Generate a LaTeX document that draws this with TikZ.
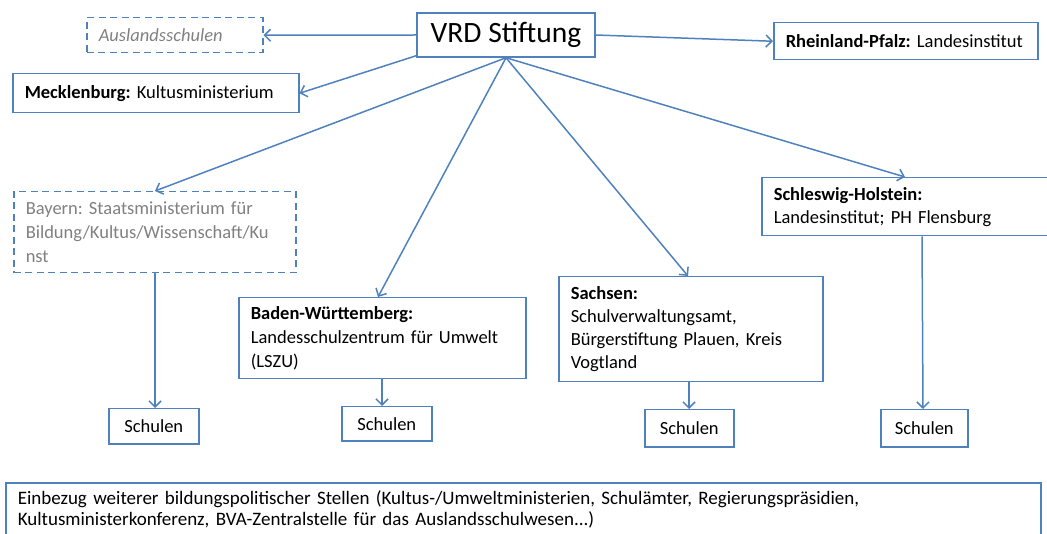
\documentclass[tikz,border=0pt]{standalone}
\usepackage{fontspec}
\setmainfont{Carlito}
\usetikzlibrary{arrows.meta}
\definecolor{ofblue}{HTML}{4F81BD}
\definecolor{txtgray}{HTML}{808080}
\frenchspacing

\begin{document}
\begin{tikzpicture}
  [x=1pt,y=-1pt,
   box/.style={draw=ofblue,line width=1.5pt,rectangle,anchor=north west,
     align=left,inner xsep=12pt,inner ysep=6pt,font=\fontsize{18.5}{24}\selectfont},
   dbox/.style={box,dash pattern=on 7pt off 4.5pt},
   school/.style={box,align=center,inner xsep=4pt,minimum width=90pt,minimum height=35pt},
   link/.style={draw=ofblue,line width=1.5pt,-{Straight Barb[length=6pt,width=12pt]}}]
  \clip (0,0) rectangle (1047,534);

  \node[box,anchor=center,align=center,minimum width=178pt,minimum height=44pt,
    font=\fontsize{29.5}{32}\selectfont] (vrd) at (506,35) {VRD Stiftung};
  \node[dbox,text width=152pt,minimum height=35pt,
    font=\fontsize{18.5}{24}\selectfont\itshape,text=txtgray] (ausl) at (86,17) {Auslandsschulen};
  \node[box,text width=240pt,minimum height=37pt] (rlp) at (773,22)
    {\textbf{Rheinland-Pfalz:} Landesinstitut};
  \node[box,text width=262pt,minimum height=39pt] (meck) at (12,73)
    {\textbf{Mecklenburg:} Kultusministerium};
  \node[dbox,text width=258pt,minimum height=81pt,text=txtgray] (bay) at (13,191)
    {Bayern: Staatsministerium für\\Bildung/Kultus/Wissenschaft/Ku\\nst};
  \node[box,text width=263pt,minimum height=81pt] (bw) at (238,297)
    {\textbf{Baden-Württemberg:}\\Landesschulzentrum für Umwelt\\(LSZU)};
  \node[box,text width=240pt,minimum height=105pt,font=\fontsize{18.5}{23}\selectfont] (sax) at (558,276)
    {\textbf{Sachsen:}\\Schulverwaltungsamt,\\Bürgerstiftung Plauen, Kreis\\Vogtland};
  \node[box,text width=300pt,minimum height=58pt,font=\fontsize{18.5}{23}\selectfont] (sh) at (761,177)
    {\textbf{Schleswig-Holstein:}\\Landesinstitut; PH Flensburg};

  \node[school] (s1) at (108,408) {Schulen};
  \node[school,minimum height=34pt] (s2) at (341,406) {Schulen};
  \node[school,minimum width=89pt,minimum height=37pt] (s3) at (644,409) {Schulen};
  \node[school,minimum width=87pt,minimum height=37pt] (s4) at (880,409) {Schulen};

  \node[box,text width=1011pt,inner ysep=8pt,font=\fontsize{19}{21}\selectfont] (more) at (5,482)
    {Einbezug weiterer bildungspolitischer Stellen (Kultus-/Umweltministerien, Schulämter, Regierungspräsidien,\\
     Kultusministerkonferenz, BVA-Zentralstelle für das Auslandsschulwesen...)\\[12pt]};

  \draw[link] (vrd.west) -- (ausl.east);
  \draw[link] (vrd.east) -- (rlp.west);
  \draw[link] (vrd.193) -- (meck.east);
  \foreach \to/\x in {bay/155,bw/378,sax/688,sh/905}
    \draw[link] (vrd.south) -- (\to.north -| \x,0);
  \draw[link] (bay.south -| 155,0) -- (s1.north -| 155,0);
  \draw[link] (bw.south -| 382,0) -- (s2.north -| 382,0);
  \draw[link] (sax.south -| 689,0) -- (s3.north -| 689,0);
  \draw[link] (sh.south -| 922,0) -- (s4.north -| 923,0);
\end{tikzpicture}
\end{document}
